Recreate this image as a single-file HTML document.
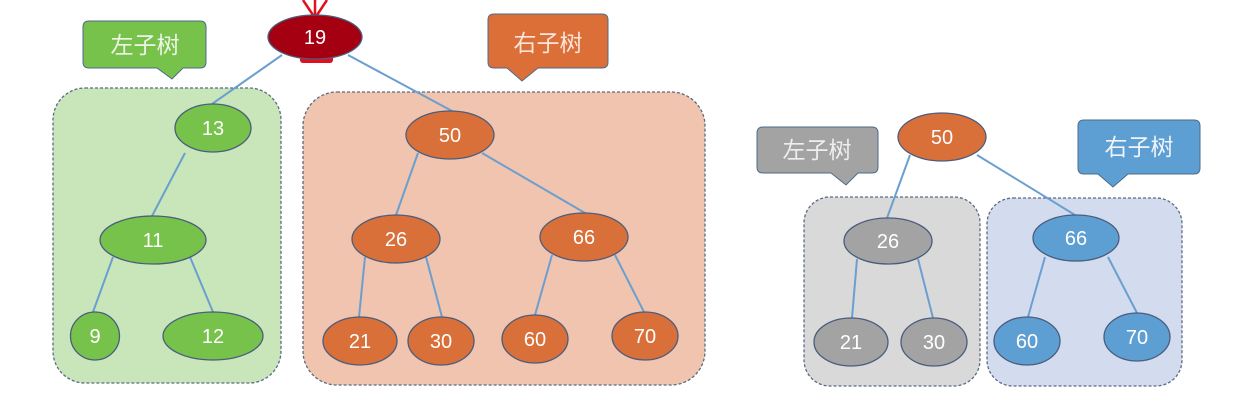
<!DOCTYPE html>
<html><head><meta charset="utf-8"><style>
html,body{margin:0;padding:0;background:#fff;}
svg{display:block;}
text{font-family:"Liberation Sans","Noto Sans CJK SC",sans-serif;}
</style></head><body>
<svg width="1244" height="413" viewBox="0 0 1244 413" xmlns="http://www.w3.org/2000/svg">
<!-- boxes -->
<rect x="53" y="88" width="228" height="295" rx="32" fill="#c8e6b9" stroke="#5a6b85" stroke-width="1.3" stroke-dasharray="3 2"/>
<rect x="303" y="92" width="402" height="293" rx="34" fill="#f0c4ae" stroke="#5a6b85" stroke-width="1.3" stroke-dasharray="3 2"/>
<rect x="804" y="197" width="176" height="189" rx="26" fill="#d9d9d9" stroke="#5a6b85" stroke-width="1.3" stroke-dasharray="3 2"/>
<rect x="987" y="198" width="195" height="188" rx="26" fill="#d3dcee" stroke="#5a6b85" stroke-width="1.3" stroke-dasharray="3 2"/>

<!-- callouts -->
<path d="M89 21 H200 Q206 21 206 27 V62 Q206 68 200 68 H183 L172 79 L157 68 H89 Q83 68 83 62 V27 Q83 21 89 21 Z" fill="#76c24a" stroke="#4d6b8a" stroke-width="1"/>
<text x="145" y="53" font-size="23" fill="#eef5e8" text-anchor="middle">左子树</text>
<path d="M494 14 H602 Q608 14 608 20 V62 Q608 68 602 68 H538 L522 81 L507 68 H494 Q488 68 488 62 V20 Q488 14 494 14 Z" fill="#dc6f38" stroke="#4d6b8a" stroke-width="1"/>
<text x="548" y="51" font-size="23" fill="#f8e6dc" text-anchor="middle">右子树</text>
<path d="M763 127 H872 Q878 127 878 133 V167 Q878 173 872 173 H858 L846 185 L831 173 H763 Q757 173 757 167 V133 Q757 127 763 127 Z" fill="#a3a3a3" stroke="#4d6b8a" stroke-width="1"/>
<text x="817" y="158" font-size="23" fill="#eeeeee" text-anchor="middle">左子树</text>
<path d="M1084 120 H1194 Q1200 120 1200 126 V168 Q1200 174 1194 174 H1128 L1113 187 L1098 174 H1084 Q1078 174 1078 168 V126 Q1078 120 1084 120 Z" fill="#5e9fd3" stroke="#4d6b8a" stroke-width="1"/>
<text x="1139" y="155" font-size="23" fill="#eef4fa" text-anchor="middle">右子树</text>

<!-- edges -->
<g stroke="#6a9fd0" stroke-width="2" fill="none">
<line x1="282" y1="55" x2="212" y2="104"/>
<line x1="348" y1="55" x2="452" y2="111"/>
<line x1="185" y1="153" x2="152" y2="216"/>
<line x1="113" y1="257" x2="93" y2="312"/>
<line x1="190" y1="257" x2="213" y2="312"/>
<line x1="418" y1="153" x2="396" y2="215"/>
<line x1="482" y1="153" x2="585" y2="213"/>
<line x1="365" y1="257" x2="359" y2="317"/>
<line x1="426" y1="257" x2="442" y2="317"/>
<line x1="552" y1="255" x2="535" y2="315"/>
<line x1="615" y1="255" x2="644" y2="312"/>
<line x1="910" y1="155" x2="887" y2="218"/>
<line x1="977" y1="155" x2="1075" y2="215"/>
<line x1="857" y1="259" x2="852" y2="318"/>
<line x1="918" y1="259" x2="933" y2="318"/>
<line x1="1045" y1="257" x2="1028" y2="317"/>
<line x1="1108" y1="257" x2="1137" y2="313"/>
</g>

<!-- red marker on 19 -->
<g stroke="#e0101e" stroke-width="2.5" fill="none">
<line x1="303" y1="0" x2="313" y2="15"/>
<line x1="327" y1="0" x2="317" y2="15"/>
<line x1="315" y1="0" x2="315" y2="15"/>
</g>
<rect x="300" y="55" width="33" height="8" rx="3" fill="#e0101e"/>

<!-- nodes -->
<g stroke="#4a5d7e" stroke-width="1.3">
<ellipse cx="315" cy="37" rx="47" ry="22" fill="#a50012"/>
<ellipse cx="213" cy="128" rx="38" ry="24" fill="#77c24b"/>
<ellipse cx="153" cy="240" rx="53" ry="24" fill="#77c24b"/>
<ellipse cx="95" cy="336" rx="24.5" ry="24" fill="#77c24b"/>
<ellipse cx="213" cy="336" rx="50" ry="24" fill="#77c24b"/>
<ellipse cx="450" cy="135" rx="44" ry="24" fill="#d96f39"/>
<ellipse cx="396" cy="239" rx="44" ry="24" fill="#d96f39"/>
<ellipse cx="584" cy="237" rx="44" ry="24" fill="#d96f39"/>
<ellipse cx="360" cy="341" rx="37" ry="24" fill="#d96f39"/>
<ellipse cx="441" cy="341" rx="33" ry="24" fill="#d96f39"/>
<ellipse cx="535" cy="339" rx="33" ry="24" fill="#d96f39"/>
<ellipse cx="645" cy="336" rx="33" ry="24" fill="#d96f39"/>
<ellipse cx="942" cy="137" rx="44" ry="24" fill="#d96f39"/>
<ellipse cx="888" cy="241" rx="44" ry="23" fill="#a3a3a3"/>
<ellipse cx="1076" cy="238" rx="43" ry="23" fill="#5e9fd3"/>
<ellipse cx="851" cy="342" rx="37" ry="24" fill="#a3a3a3"/>
<ellipse cx="934" cy="342" rx="33" ry="24" fill="#a3a3a3"/>
<ellipse cx="1027" cy="341" rx="33" ry="24" fill="#5e9fd3"/>
<ellipse cx="1137" cy="337" rx="33" ry="24" fill="#5e9fd3"/>
</g>

<g font-size="20" fill="#ffffff" text-anchor="middle">
<text x="315" y="44">19</text>
<text x="213" y="135">13</text>
<text x="153" y="247">11</text>
<text x="95" y="343">9</text>
<text x="213" y="343">12</text>
<text x="450" y="142">50</text>
<text x="396" y="246">26</text>
<text x="584" y="244">66</text>
<text x="360" y="348">21</text>
<text x="441" y="348">30</text>
<text x="535" y="346">60</text>
<text x="645" y="343">70</text>
<text x="942" y="144">50</text>
<text x="888" y="248">26</text>
<text x="1076" y="245">66</text>
<text x="851" y="349">21</text>
<text x="934" y="349">30</text>
<text x="1027" y="348">60</text>
<text x="1137" y="344">70</text>
</g>
</svg>
</body></html>
